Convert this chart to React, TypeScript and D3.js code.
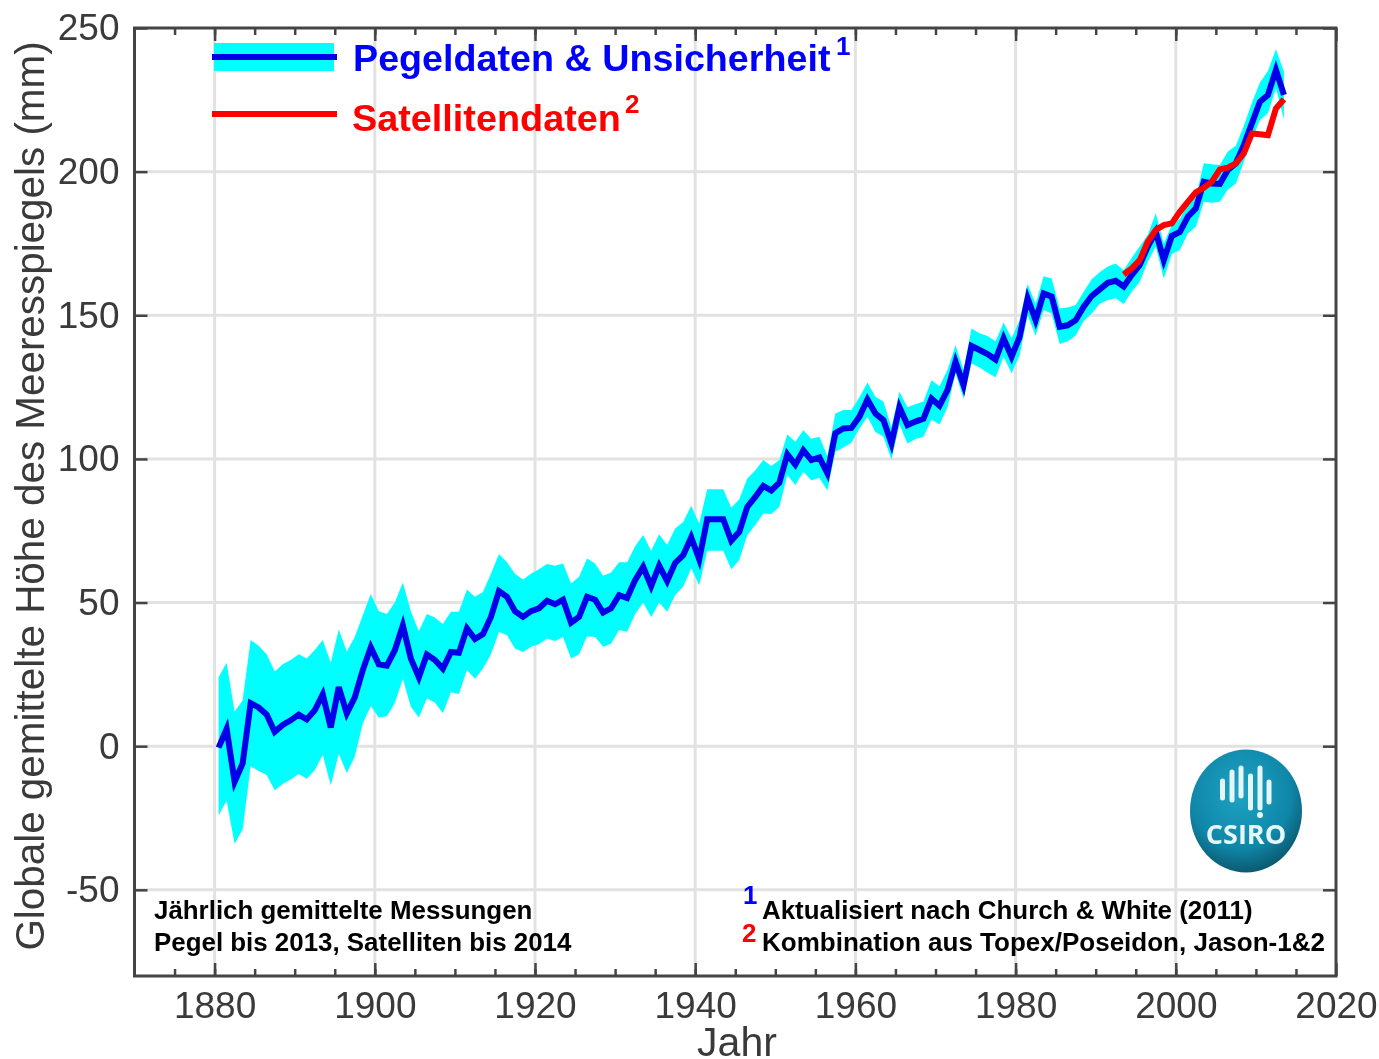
import React, { useEffect, useRef } from "react";
import * as d3 from "d3";

const firstYear = 1880.5;

// annual tide gauge values (mm), 1880.5 .. 2013.5
const gauge = [
  -0.5, 6, -12.4, -6, 15, 13.5, 11, 5, 7.4, 9, 11, 9.3, 12.5, 18, 6.5, 20.6, 11.4, 17, 26.5, 34.4, 28.5, 28, 33.4, 42, 30.5, 24, 31.9,
  30, 27, 32.8, 32.5, 41, 37.3, 39, 45, 54, 52, 47, 45, 47, 48, 50.6, 49.4, 51, 43, 45, 52, 51, 46.5, 48, 52.6, 51.6, 57.8, 62.4, 55.7, 62.8, 57.5, 63.8, 66.5, 72.7, 65, 79, 79, 79, 71.5, 74.6,
  83.3, 86.8, 90.6, 89, 91.7, 101.6, 98, 103, 99.6, 100.5, 95, 109, 110.6, 110.8, 114.7, 120.7, 115.8, 113.5, 105.4, 118, 111.8, 113, 114, 121, 118.5, 124, 133.8, 125.7, 139.3, 137.9, 136.5, 134.6, 142, 135.6, 142.5, 155.9, 148.3, 157.6, 156.5,
  146, 146.5, 148.3, 153, 156.7, 159, 161.3, 162, 160, 164, 167.5, 173.9, 179, 169.2, 177.6, 179, 184.3, 187.2, 196.5, 195.9, 195.7, 200.6, 202.9, 209.3, 216.8, 224.3, 226.7, 235.4, 226.7,
];

const gaugeUpper = [
  24, 29, 12, 16, 37, 35, 32, 26, 28.5, 30, 32, 30.5, 33.5, 37, 29, 40.6, 33, 38, 45.6, 53, 47, 46, 50, 57, 47, 40, 46,
  44.8, 42.5, 46.8, 46.8, 54.5, 52, 53.7, 60, 66.9, 64, 60, 58, 60, 61.6, 63.4, 62.8, 63.6, 56.6, 59, 65.3, 63.6, 59.3, 60.5, 64, 64, 69.6, 73.5, 68, 73.8, 70, 75.8, 78, 83.7, 77.5, 89.4, 89.4, 89.4, 83, 86,
  93.2, 96, 99.6, 97.5, 99.6, 108.5, 106, 110, 107, 107.7, 101, 115.8, 117, 117, 121.4, 126.6, 121.6, 120, 111, 123.4, 118, 119, 120, 127.4, 125.3, 131, 139.6, 131, 145.4, 143.7, 142.8, 141, 147.5, 142, 148.3, 160.9, 154, 163.6, 162.8,
  152.4, 152.7, 153.6, 158.2, 162.5, 165, 167, 168, 165.7, 170, 173.9, 178, 185.5, 175, 181.4, 183.5, 189, 191, 202.9, 202.6, 202.3, 207, 209, 216, 224, 231, 235, 242.6, 234.8,
];

const gaugeLower = [
  -24, -19, -34, -29, -7, -8.6, -10, -15.3, -13.2, -11.6, -9.7, -11.3, -8.4, -3, -13.6, -2.6, -9.3, -3.7, 8, 14, 10, 10.4, 15, 23.5, 13.7, 10, 16.6,
  15.2, 11.5, 18.8, 18.2, 26.5, 23.5, 27, 32, 39.8, 38.6, 34, 32.8, 34.6, 35.5, 37.5, 36.6, 38, 30.5, 32, 38.3, 38, 34.6, 35.7, 40.4, 39.8, 46, 50, 45, 50, 46.8, 52.6, 55.5, 61.9, 56, 68, 68, 68, 61.6, 64.8,
  73.4, 77, 81, 80.8, 83.3, 94.4, 90.9, 95.5, 92.6, 93.4, 89, 102.5, 104, 105.6, 110.6, 114.7, 109.4, 107.7, 99.8, 112, 105.4, 106.9, 107.7, 113.7, 112, 118, 129.8, 121, 133.2, 131.8, 130, 128.4, 135.6, 129.8, 136, 150, 142.9, 151.8, 150.6,
  140, 141, 143, 148, 150.6, 154, 155.3, 155.9, 153.9, 158.2, 161.7, 168.6, 173.9, 162.8, 171.3, 172.7, 178.5, 180.8, 189.5, 189.2, 189.5, 193.8, 195.9, 203.5, 211, 218, 220.3, 229, 218.2,
];

// satellite altimetry, 1993.5 .. 2013.5
const satFirstYear = 1993.5;
const satellite = [
  164.2, 166.3, 169.2, 175.6, 179.7, 181.4, 182, 186, 189.5, 192.8, 194.4, 196.5, 200.8, 201.4, 202.9, 206.4, 213.3, 213, 212.7, 222, 225.2,
];

const majorYears = [1880, 1900, 1920, 1940, 1960, 1980, 2000, 2020];
const minorYears = d3.range(1875, 2020, 5);
const levelTicks = [-50, 0, 50, 100, 150, 200, 250];

const width = 1379;
const height = 1059;
const left = 134.5;
const right = 1336;
const top = 28;
const bottom = 976;

const sans = "'Liberation Sans', Arial, sans-serif";
const axisColor = "#444";
const gridColor = "#e2e2e2";

export default function App() {
  const ref = useRef<SVGSVGElement | null>(null);

  useEffect(() => {
    if (!ref.current) return;
    const svg = d3.select(ref.current);
    svg.selectAll("*").remove();

    const x = d3.scaleLinear().domain([1870, 2020]).range([left, right]);
    const y = d3.scaleLinear().domain([-80, 250]).range([bottom, top]);

    const root = svg.append("g").attr("font-family", sans).style("filter", "blur(0.7px)");

    // grid
    const grid = root.append("g").attr("stroke", gridColor).attr("stroke-width", 3);
    grid
      .selectAll("line.v")
      .data(majorYears.slice(0, -1))
      .join("line")
      .attr("x1", (d) => x(d))
      .attr("x2", (d) => x(d))
      .attr("y1", top)
      .attr("y2", bottom);
    grid
      .selectAll("line.h")
      .data(levelTicks.slice(0, -1))
      .join("line")
      .attr("x1", left)
      .attr("x2", right)
      .attr("y1", (d) => y(d))
      .attr("y2", (d) => y(d));

    // uncertainty band
    const area = d3
      .area<number>()
      .x((_, i) => x(firstYear + i))
      .y0((_, i) => y(gaugeLower[i]))
      .y1((d) => y(d));
    root.append("path").attr("d", area(gaugeUpper)).attr("fill", "#00ffff");

    const gaugeLine = d3
      .line<number>()
      .x((_, i) => x(firstYear + i))
      .y((d) => y(d));
    root
      .append("path")
      .attr("d", gaugeLine(gauge))
      .attr("fill", "none")
      .attr("stroke", "#0000e8")
      .attr("stroke-width", 6);

    const satLine = d3
      .line<number>()
      .x((_, i) => x(satFirstYear + i))
      .y((d) => y(d));
    root
      .append("path")
      .attr("d", satLine(satellite))
      .attr("fill", "none")
      .attr("stroke", "#ff0000")
      .attr("stroke-width", 6);

    // axes
    const styleAxis = (g: d3.Selection<SVGGElement, unknown, null, undefined>) => {
      g.select(".domain").remove();
      g.selectAll("line").attr("stroke", axisColor).attr("stroke-width", 2.5);
      g.selectAll("text").attr("font-size", 37).attr("fill", "#3a3a3a").attr("font-family", sans);
    };

    const majorX = (g: any, axis: any) => g.call(axis.tickValues(majorYears).tickSizeOuter(0)).call(styleAxis);
    const minorX = (g: any, axis: any) => g.call(axis.tickValues(minorYears).tickSizeOuter(0).tickFormat(() => "")).call(styleAxis);

    const xBottom = root.append("g").attr("transform", `translate(0,${bottom})`);
    majorX(xBottom.append("g"), d3.axisBottom(x).tickSizeInner(-13).tickPadding(16).tickFormat(d3.format("d") as any));
    minorX(xBottom.append("g"), d3.axisBottom(x).tickSizeInner(-7));

    const xTop = root.append("g").attr("transform", `translate(0,${top})`);
    minorX(xTop.append("g"), d3.axisTop(x).tickSizeInner(-7));
    xTop
      .append("g")
      .call(d3.axisTop(x).tickValues(majorYears).tickSizeInner(-13).tickSizeOuter(0).tickFormat(() => ""))
      .call(styleAxis);

    root
      .append("g")
      .attr("transform", `translate(${left},0)`)
      .call(d3.axisLeft(y).tickValues(levelTicks).tickSizeInner(-13).tickSizeOuter(0).tickPadding(15).tickFormat((d) => String(d)))
      .call(styleAxis);
    root
      .append("g")
      .attr("transform", `translate(${right},0)`)
      .call(d3.axisRight(y).tickValues(levelTicks).tickSizeInner(-13).tickSizeOuter(0).tickFormat(() => ""))
      .call(styleAxis);

    root
      .append("rect")
      .attr("x", left)
      .attr("y", top)
      .attr("width", right - left)
      .attr("height", bottom - top)
      .attr("fill", "none")
      .attr("stroke", axisColor)
      .attr("stroke-width", 3);

    // axis titles
    root
      .append("text")
      .attr("x", 737)
      .attr("y", 1056)
      .attr("text-anchor", "middle")
      .attr("font-size", 41)
      .attr("fill", "#3a3a3a")
      .text("Jahr");
    root
      .append("text")
      .attr("transform", "translate(44,496) rotate(-90)")
      .attr("text-anchor", "middle")
      .attr("font-size", 40.4)
      .attr("fill", "#3a3a3a")
      .text("Globale gemittelte Höhe des Meeresspiegels (mm)");

    // legend
    root.append("rect").attr("x", 214).attr("y", 43).attr("width", 120).attr("height", 28).attr("fill", "#00ffff");
    root.append("line").attr("x1", 212).attr("x2", 337).attr("y1", 57).attr("y2", 57).attr("stroke", "#0000e8").attr("stroke-width", 6);
    root.append("line").attr("x1", 212).attr("x2", 337).attr("y1", 114).attr("y2", 114).attr("stroke", "#ff0000").attr("stroke-width", 6);

    const label = (tx: number, ty: number, size: number, color: string, weight: string, s: string) =>
      root
        .append("text")
        .attr("x", tx)
        .attr("y", ty)
        .attr("font-size", size)
        .attr("font-weight", weight)
        .attr("fill", color)
        .text(s);

    label(353, 71, 37.7, "#0000ff", "bold", "Pegeldaten & Unsicherheit");
    label(836, 55, 26, "#0000ff", "bold", "1");
    label(352, 131, 37.8, "#ff0000", "bold", "Satellitendaten");
    label(625, 113, 26, "#ff0000", "bold", "2");

    label(154, 919, 25.9, "#000", "bold", "Jährlich gemittelte Messungen");
    label(154, 951, 25.9, "#000", "bold", "Pegel bis 2013, Satelliten bis 2014");
    label(743, 904, 25.9, "#0000ff", "bold", "1");
    label(762, 919, 25.9, "#000", "bold", "Aktualisiert nach Church & White (2011)");
    label(742, 942, 25.9, "#ff0000", "bold", "2");
    label(762, 951, 26, "#000", "bold", "Kombination aus Topex/Poseidon, Jason-1&2");

    // CSIRO logo
    const defs = svg.append("defs");
    const grad = defs
      .append("radialGradient")
      .attr("id", "logoFill")
      .attr("cx", "45%")
      .attr("cy", "35%")
      .attr("r", "70%");
    grad.append("stop").attr("offset", "0%").attr("stop-color", "#1fa3c4");
    grad.append("stop").attr("offset", "65%").attr("stop-color", "#0f86a8");
    grad.append("stop").attr("offset", "100%").attr("stop-color", "#0a4f63");

    const logo = root.append("g");
    logo.append("ellipse").attr("cx", 1246).attr("cy", 811).attr("rx", 56).attr("ry", 61.5).attr("fill", "url(#logoFill)");
    const bars: Array<[number, number, number]> = [
      [1222.5, 781, 798],
      [1232, 772, 800],
      [1241, 768, 796],
      [1250.5, 776, 808],
      [1260, 768, 808],
      [1269, 782, 802],
    ];
    logo
      .selectAll("line")
      .data(bars)
      .join("line")
      .attr("x1", (d) => d[0])
      .attr("x2", (d) => d[0])
      .attr("y1", (d) => d[1])
      .attr("y2", (d) => d[2])
      .attr("stroke", "#e4f6f8")
      .attr("stroke-width", 5)
      .attr("stroke-linecap", "round");
    logo.append("circle").attr("cx", 1260).attr("cy", 815).attr("r", 3).attr("fill", "#e4f6f8");
    logo
      .append("text")
      .attr("x", 1246)
      .attr("y", 844)
      .attr("text-anchor", "middle")
      .attr("font-size", 27)
      .attr("font-weight", "bold")
      .attr("font-family", "'Open Sans', sans-serif")
      .attr("fill", "#e4f6f8")
      .text("CSIRO");
  }, []);

  return (
    <svg
      ref={ref}
      width={width}
      height={height}
      style={{ position: "absolute", left: 0, top: 0, background: "#fff" }}
    />
  );
}
